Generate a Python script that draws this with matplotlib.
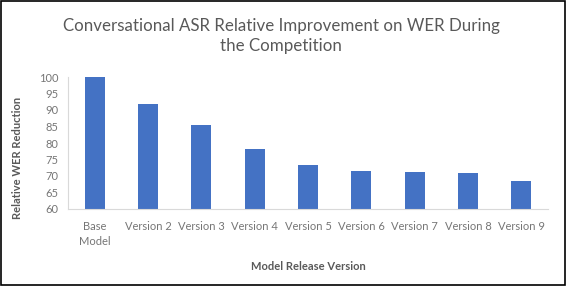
import matplotlib.pyplot as plt
from matplotlib.patches import Rectangle

categories = ["Base\nModel", "Version 2", "Version 3", "Version 4", "Version 5",
              "Version 6", "Version 7", "Version 8", "Version 9"]
values = [100, 91.9, 85.4, 78.2, 73.4, 71.5, 71.2, 70.9, 68.5]

plt.rcParams['font.family'] = ['Lato', 'DejaVu Sans']
grey = '#595959'
light = '#767676'

fig = plt.figure(figsize=(5.68, 2.86), dpi=100)
ax = fig.add_axes([68 / 568, 1 - 209 / 286, 480 / 568, 132 / 286])

ax.bar(range(len(values)), values, width=0.38, color='#4472c4', bottom=0)
ax.set_xlim(-0.5, len(values) - 0.5)
ax.set_ylim(60, 100)
ax.set_yticks(range(60, 101, 5))
ax.set_xticks(range(len(values)))
ax.set_xticklabels(categories, linespacing=1.35)
ax.tick_params(length=0, labelsize=8, colors=light)
ax.tick_params(axis='x', pad=9)
ax.tick_params(axis='y', pad=7)

for s in ['top', 'right']:
    ax.spines[s].set_visible(False)
for s in ['left', 'bottom']:
    ax.spines[s].set_color('#d9d9d9')
    ax.spines[s].set_linewidth(0.8)

fig.text(0.495, 1 - 36 / 286, "Conversational ASR Relative Improvement on WER During\nthe Competition",
         ha='center', va='center', fontsize=12.2, color=grey, linespacing=1.35)
fig.text(18 / 568, 1 - 158 / 286, "Relative WER Reduction", rotation=90,
         ha='center', va='center', fontsize=8, fontweight='bold', color=grey)
fig.text(308 / 568, 1 - 266 / 286, "Model Release Version",
         ha='center', va='center', fontsize=8, fontweight='bold', color=grey)

fig.patches.append(Rectangle((0.001, 0.004), 0.993, 0.993, transform=fig.transFigure,
                             fill=False, edgecolor='black', linewidth=1.2))

fig.savefig("out.png", dpi=100)
